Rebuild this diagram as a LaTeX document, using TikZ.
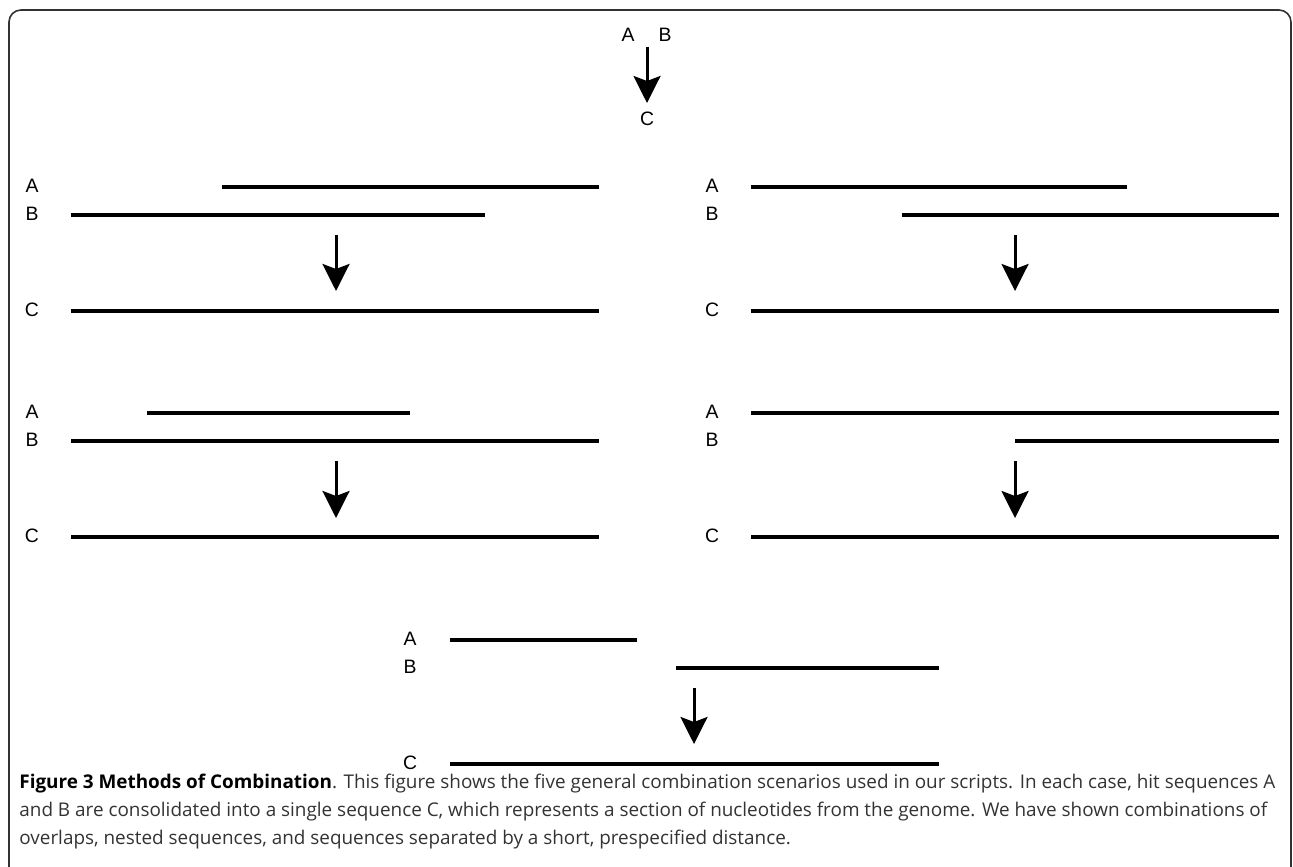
\documentclass[tikz,border=0pt]{standalone}
\usepackage{fontspec}
\setmainfont{Open Sans}
\newfontfamily\lblfont{Liberation Sans}
\usetikzlibrary{arrows.meta}
\definecolor{framegray}{RGB}{50, 50, 50}

\begin{document}
\begin{tikzpicture}[x=0.5pt, y=-0.5pt,
    seq/.style={line width=1.6pt},
    lbl/.style={font=\lblfont\fontsize{9.7pt}{10pt}\selectfont, inner sep=0pt},
    down/.style={line width=1.5pt, -{Stealth[length=13.5pt, width=13.5pt, inset=2.5pt]}}]
        \useasboundingbox (0,0) rectangle (1293,866);
        % frame
        \draw[framegray, line width=0.8pt, rounded corners=6pt] (9,870) -- (9,10) -- (1291,10) -- (1291,870);
        % legend at the top
        \node[lbl] (ta) at (628,35) {A};
        \node[lbl] (tb) at (665,35) {B};
        \node[lbl] (tc) at (647,119) {C};
        \coordinate (t0) at (647,47);
        \coordinate (t1) at (647,103);
        \draw[down] (t0) -- (t1);

        % overlap, B first
        \node[lbl] (a1) at (32,186) {A};
        \node[lbl] (b1) at (32,214) {B};
        \node[lbl] (c1) at (32,310) {C};
        \draw[seq] (222,187) -- (599,187);
        \draw[seq] (71,215) -- (485,215);
        \draw[seq] (71,311) -- (599,311);
        \coordinate (p1) at (336,235);
        \coordinate (q1) at (336,291);
        \draw[down] (p1) -- (q1);

        % overlap, A first
        \node[lbl] (a2) at (712,186) {A};
        \node[lbl] (b2) at (712,214) {B};
        \node[lbl] (c2) at (712,310) {C};
        \draw[seq] (751,187) -- (1127,187);
        \draw[seq] (902,215) -- (1279,215);
        \draw[seq] (751,311) -- (1279,311);
        \coordinate (p2) at (1015,235);
        \coordinate (q2) at (1015,291);
        \draw[down] (p2) -- (q2);

        % A nested in B
        \node[lbl] (a3) at (32,412) {A};
        \node[lbl] (b3) at (32,440) {B};
        \node[lbl] (c3) at (32,536) {C};
        \draw[seq] (147,413) -- (410,413);
        \draw[seq] (71,441) -- (599,441);
        \draw[seq] (71,537) -- (599,537);
        \coordinate (p3) at (336,461);
        \coordinate (q3) at (336,518);
        \draw[down] (p3) -- (q3);

        % B nested in A
        \node[lbl] (a4) at (712,412) {A};
        \node[lbl] (b4) at (712,440) {B};
        \node[lbl] (c4) at (712,536) {C};
        \draw[seq] (751,413) -- (1279,413);
        \draw[seq] (1015,441) -- (1279,441);
        \draw[seq] (751,537) -- (1279,537);
        \coordinate (p4) at (1015,461);
        \coordinate (q4) at (1015,518);
        \draw[down] (p4) -- (q4);

        % separated by a short distance
        \node[lbl] (a5) at (410,639) {A};
        \node[lbl] (b5) at (410,667) {B};
        \node[lbl] (c5) at (410,763) {C};
        \draw[seq] (450,640) -- (637,640);
        \draw[seq] (676,668) -- (939,668);
        \draw[seq] (450,764) -- (939,764);
        \coordinate (p5) at (694,688);
        \coordinate (q5) at (694,744);
        \draw[down] (p5) -- (q5);

        % caption
        \node[anchor=north west, inner sep=0pt, align=left, font=\fontsize{9.45pt}{14pt}\selectfont, color=black!80] (cap) at (19,774)
          {\textbf{\color{black}Figure 3 Methods of Combination}. This figure shows the five general combination scenarios used in our scripts. In each case, hit sequences A\\
           and B are consolidated into a single sequence C, which represents a section of nucleotides from the genome. We have shown combinations of\\
           overlaps, nested sequences, and sequences separated by a short, prespecified distance.};
      \end{tikzpicture}
\end{document}
